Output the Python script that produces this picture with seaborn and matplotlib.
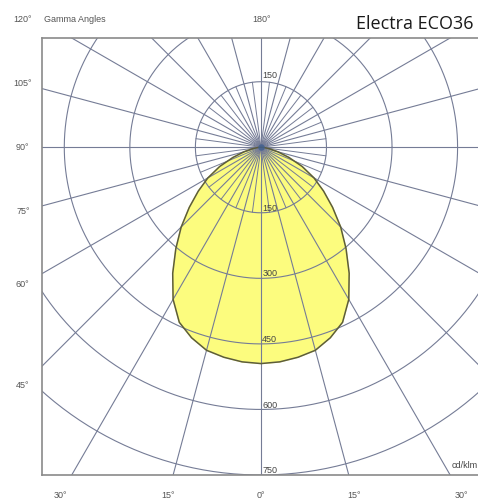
import numpy as np
import pandas as pd
import matplotlib
matplotlib.use('Agg')
import matplotlib.pyplot as plt
import seaborn as sns

# luminous intensity (cd/klm) vs gamma angle, symmetric curve
gamma = [0, 5, 10, 15, 20, 25, 30, 35, 40, 45, 50, 55, 60, 65, 70, 75, 80, 85, 90]
intensity = [495, 493, 488, 481, 464, 442, 402, 352, 303, 258, 214, 175, 140, 104, 68, 40, 20, 7, 1]

rings = [150, 300, 450, 600, 750]
side_labels = [45, 60, 75, 90, 105]
bottom_labels = [-30, -15, 0, 15, 30]

sns.set_style('white')
plt.rcParams['font.family'] = ['Liberation Sans', 'DejaVu Sans']

fig = plt.figure(figsize=(4.78, 5.01), dpi=100)
ax = fig.add_axes([42 / 478, 26 / 501, 437 / 478, 437 / 501])

# curve in cartesian coords (0 deg pointing down)
g = np.radians(np.concatenate([-np.array(gamma[::-1]), np.array(gamma[1:])]))
I = np.concatenate([np.array(intensity[::-1]), np.array(intensity[1:])])
df = pd.DataFrame({'x': I * np.sin(g), 'y': -I * np.cos(g)})

ax.fill(df['x'], df['y'], color='#fcfc7e', zorder=1)
sns.lineplot(x='x', y='y', data=df, sort=False, estimator=None, color='#5c5c3c', lw=1.1, ax=ax, zorder=3)

grid_col = '#757c96'
t = np.linspace(0, 2 * np.pi, 400)
for r in rings:
    ax.plot(r * np.cos(t), r * np.sin(t), color=grid_col, lw=0.8, zorder=2)
for a in range(0, 360, 15):
    ar = np.radians(a)
    ax.plot([0, 1300 * np.sin(ar)], [0, -1300 * np.cos(ar)], color=grid_col, lw=0.8, zorder=2)
for a in np.arange(7.5, 360, 15):
    ar = np.radians(a)
    ax.plot([0, 150 * np.sin(ar)], [0, -150 * np.cos(ar)], color=grid_col, lw=0.7, zorder=2)
ax.scatter([0], [0], s=22, color='#3f5f90', alpha=0.8, lw=0, zorder=4)

# ring labels
for r in rings:
    ax.text(3, -r + 10, str(r), fontsize=6.5, color='#444444', ha='left', va='center', zorder=4)
ax.text(3, 150 + 14, '150', fontsize=6.5, color='#444444', ha='left', va='center', zorder=4)

lab_col = '#555555'
for a in side_labels:
    y = 545 / np.tan(np.radians(a)) if a != 90 else 0
    ax.text(-545, -y, f'{a}°', fontsize=6.5, color=lab_col, ha='center', va='center', clip_on=False)
for a in bottom_labels:
    ax.text(796 * np.tan(np.radians(a)), -796, f'{abs(a)}°', fontsize=6.5, color=lab_col,
            ha='center', va='center', clip_on=False)
ax.text(-545, 292, '120°', fontsize=6.5, color=lab_col, ha='center', va='center', clip_on=False)
ax.text(-497, 292, 'Gamma Angles', fontsize=6.5, color=lab_col, ha='left', va='center', clip_on=False)
ax.text(2, 292, '180°', fontsize=6.5, color=lab_col, ha='center', va='center', clip_on=False)
ax.text(495, -728, 'cd/klm', fontsize=6.5, color='#444444', ha='right', va='center')

fig.text(473 / 478, 1 - 24 / 501, 'Electra ECO36', fontsize=13, color='#1a1a1a',
         ha='right', va='center', family=['Open Sans', 'DejaVu Sans'])

ax.set_xlim(-501, 499)
ax.set_ylim(-750, 250)
ax.set_xticks([])
ax.set_yticks([])
ax.set_xlabel('')
ax.set_ylabel('')
for s in ['top', 'left', 'bottom']:
    ax.spines[s].set_color('#8a8a8a')
    ax.spines[s].set_linewidth(1.2)
ax.spines['right'].set_visible(False)

fig.savefig('out.png', dpi=100)
